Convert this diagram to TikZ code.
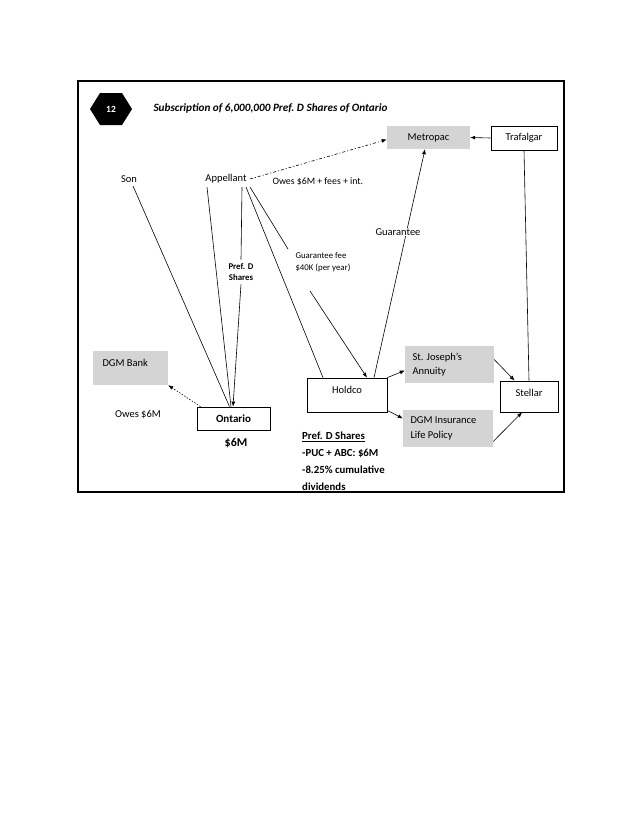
\documentclass[tikz,border=0pt]{standalone}
\usepackage{fontspec}
\setmainfont{Carlito}
\usetikzlibrary{arrows.meta}
\begin{document}
\begin{tikzpicture}[x=1pt,y=-1pt,
  wbox/.style={draw,line width=0.8pt,inner sep=0pt,fill=white},
  gbox/.style={fill=black!17,inner sep=0pt},
  lbl/.style={font=\fontsize{10.5}{12}\selectfont},
  ln/.style={line width=0.6pt},
  arr/.style={line width=0.6pt,-{Latex[length=5pt,width=4pt]}},
  dashdot/.style={line width=0.6pt,dash pattern=on 3pt off 2pt on 1pt off 2pt,-{Latex[length=5pt,width=4pt]}},
  dots/.style={line width=0.6pt,dash pattern=on 1.5pt off 1.5pt,-{Latex[length=5pt,width=4pt]}}]
\useasboundingbox (0,0) rectangle (621,828);
\fill[white] (0,0) rectangle (621,828);
\draw[line width=1.2pt] (78,81) rectangle (564,492);
% hexagon badge
\fill (90,109) -- (100,93) -- (122,93) -- (132,109) -- (122,125) -- (100,125) -- cycle;
\node[white,font=\bfseries\fontsize{9.5}{11}\selectfont] (hex) at (111,109) {12};
\node[anchor=west,font=\bfseries\itshape\fontsize{11.2}{13}\selectfont] (title) at (150,108) {Subscription of 6,000,000 Pref.\ D Shares of Ontario};
% boxes
\node[gbox,minimum width=83pt,minimum height=23pt,lbl] (metropac) at (428.5,137.5) {Metropac};
\node[wbox,minimum width=66pt,minimum height=24pt,lbl] (trafalgar) at (524,138) {Trafalgar};
\node[lbl] (son) at (129,179) {Son};
\node[lbl] (appellant) at (226,179) {Appellant};
\node[anchor=west,font=\fontsize{9.8}{12}\selectfont] (owes) at (269,182) {Owes \$6M + fees + int.};
\node[anchor=west,align=left,font=\fontsize{8.8}{11.5}\selectfont] (gfee) at (292,262) {Guarantee fee\\\$40K (per year)};
\node[align=center,font=\bfseries\fontsize{8.8}{11.5}\selectfont] (prefd) at (241,272) {Pref. D\\Shares};
\node[gbox,minimum width=75pt,minimum height=34pt] (dgmbank) at (130.5,368) {};
\node[lbl,anchor=west] (dgmbanklbl) at (99,363) {DGM Bank};
\node[wbox,minimum width=73pt,minimum height=23pt,font=\bfseries\fontsize{11}{13}\selectfont] (ontario) at (233.5,418.5) {Ontario};
\node[font=\bfseries\fontsize{12}{14}\selectfont] (sixm) at (236,443) {\$6M};
\node[lbl] (owes6) at (138,415) {Owes \$6M};
\node[wbox,minimum width=80pt,minimum height=34pt] (holdco) at (347,395) {};
\node[lbl] (holdcolbl) at (347,390) {Holdco};
\node[gbox,minimum width=89pt,minimum height=37pt] (stj) at (449.5,364.5) {};
\node[anchor=west,align=left,font=\fontsize{10.5}{14.5}\selectfont] (stjlbl) at (409,364.5) {St. Joseph’s\\Annuity};
\node[wbox,minimum width=58pt,minimum height=31pt] (stellar) at (529,396.5) {};
\node[lbl] (stellarlbl) at (529,393) {Stellar};
\node[gbox,minimum width=90pt,minimum height=37pt] (dgmins) at (448,428.5) {};
\node[anchor=west,align=left,font=\fontsize{10.5}{14.5}\selectfont] (dgminslbl) at (407,428.5) {DGM Insurance\\Life Policy};
\node[anchor=north west,align=left,inner sep=0pt,font=\bfseries\fontsize{10.8}{17}\selectfont] (prefblock) at (302,432) {\underline{Pref. D Shares}\\-PUC + ABC: \$6M\\-8.25\% cumulative\\dividends};
% connectors
\draw[ln] ([xshift=4pt]son.south) -- ([xshift=-4pt]ontario.north);
\draw[ln] ([xshift=-19pt]appellant.south) -- ([xshift=-2.5pt]ontario.north);
\draw[ln] ([xshift=16pt]appellant.south) -- (prefd.north);
\draw[arr] (prefd.south) -- ([xshift=-0.5pt]ontario.north);
\draw[ln] ([xshift=20pt]appellant.south) -- ([xshift=-24pt]holdco.north);
\draw[ln] ([xshift=24pt]appellant.south) -- ([xshift=-4pt]gfee.north west);
\coordinate (gfeeb) at (310,291);
\draw[arr] (gfeeb) -- ([xshift=20pt]holdco.north);
\draw[arr] ([xshift=27pt]holdco.north) -- ([xshift=-3.5pt]metropac.south);
\draw[dashdot] (appellant.east) -- ([yshift=-2pt]metropac.west);
\draw[arr] (trafalgar.west) -- (metropac.east);
\draw[ln] (trafalgar.south) -- (stellar.north);
\draw[arr] (holdco.north east) -- ([yshift=-6pt]stj.west);
\draw[arr] ([yshift=5pt]stj.east) -- ([xshift=15pt]stellar.north west);
\draw[arr] ([yshift=2pt]holdco.south east) -- ([yshift=10pt]dgmins.west);
\draw[arr] ([yshift=-13pt]dgmins.east) -- ([xshift=-7pt]stellar.south);
\draw[dots] ([xshift=-33pt]ontario.north) -- (dgmbank.south east);
\node[lbl,fill=white,inner sep=1pt] (guar) at (398,232) {Guarantee};
\end{tikzpicture}
\end{document}
